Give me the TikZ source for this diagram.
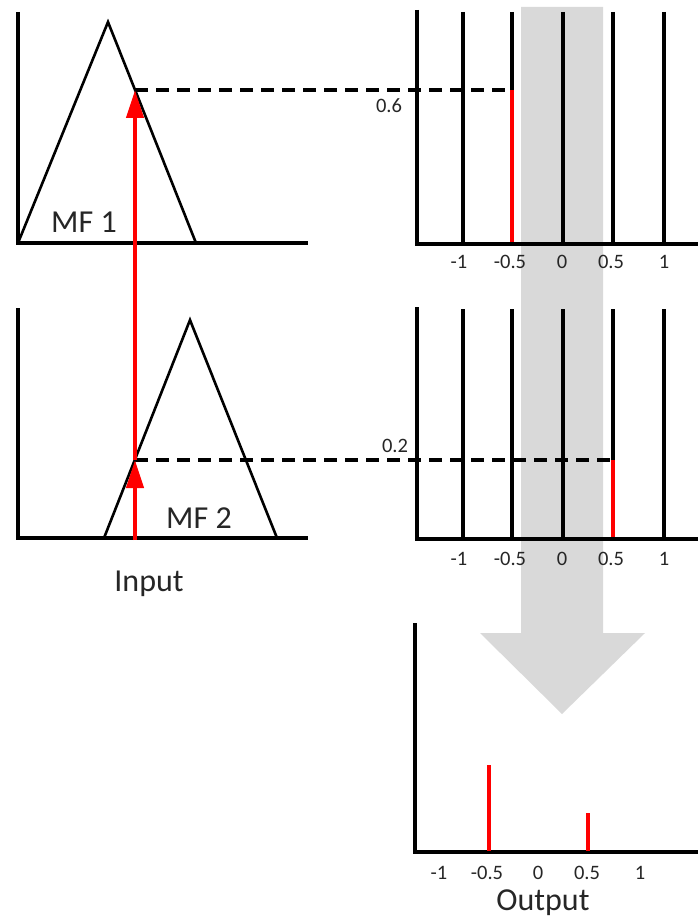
\documentclass[tikz,border=0pt]{standalone}
\usepackage{fontspec}
\setmainfont{Carlito}
\usetikzlibrary{arrows.meta, backgrounds}

\begin{document}
\begin{tikzpicture}[
  x=1pt, y=-1pt,
  axis/.style={line width=4.6pt, line join=miter},
  mf/.style={line width=2.6pt, line join=miter},
  bar/.style={line width=4.2pt},
  hit/.style={bar, red},
  fire/.style={red, line width=4pt, -{Triangle[length=28pt, width=17pt]}},
  cut/.style={dash pattern=on 13pt off 8pt, line width=3.2pt},
  lbl/.style={font=\fontsize{32}{38}\selectfont, text=black!85, inner sep=0pt},
  tick/.style={font=\fontsize{20.5}{24}\selectfont, text=black!85, inner sep=0pt},
]

\useasboundingbox (0,0) rectangle (698,920);

% ---- grey flow arrow (behind everything) ----
\begin{scope}[on background layer]
  \fill[black!15] (521,7) -- (603,7) -- (603,633) -- (645,633) -- (562,714)
    -- (480,633) -- (521,633) -- cycle;
\end{scope}

% ---- input side: membership functions ----
\draw[axis] (18,12) -- (18,243) -- (308,243);
\draw[mf] (18,243) -- (108,22) -- (196,243);
\node[lbl] (mf1) at (84,222) {MF 1};

\draw[axis] (18,308) -- (18,538) -- (308,538);
\draw[mf] (104,538) -- (190,320) -- (277,538);
\node[lbl] (mf2) at (199,518) {MF 2};

\node[lbl] (input) at (149,584) {Input};

% ---- rule 1 consequent (singletons) ----
\draw[axis] (417,10) -- (417,244) -- (698,244);
\foreach \x in {463,512,563,613,664}{
  \draw[bar] (\x,12) -- (\x,244);
}
\foreach \x/\lab [count=\i] in {459/-1, 510/-0.5, 562/0, 611/0.5, 664/1}{
  \node[tick] (ta\i) at (\x,262) {\lab};
}

% ---- rule 2 consequent (singletons) ----
\draw[axis] (417,307) -- (417,539) -- (698,539);
\foreach \x in {463,512,563,613,664}{
  \draw[bar] (\x,309) -- (\x,539);
}
\foreach \x/\lab [count=\i] in {459/-1, 510/-0.5, 562/0, 611/0.5, 664/1}{
  \node[tick] (tb\i) at (\x,559) {\lab};
}

% ---- firing strengths ----
\coordinate (in2)  at (135,540);
\coordinate (cut2) at (135,460);
\coordinate (cut1) at (135,90);
\coordinate (end1) at (512,90);
\coordinate (end2) at (613,460);
\coordinate (foot1) at (512,242);
\coordinate (foot2) at (613,537);

\draw[cut] (cut1) -- (end1);
\draw[cut] (cut2) -- (end2);
\draw[hit] (end1) -- (foot1);
\draw[hit] (end2) -- (foot2);
\draw[fire] (in2) -- (cut2);
\draw[fire] (cut2) -- (cut1);

\node[tick] (v06) at (389,106) {0.6};
\node[tick] (v02) at (395,446) {0.2};

% ---- aggregated output ----
\draw[axis] (415,623) -- (415,852) -- (698,852);
\draw[hit] (489,765) -- (489,851);
\draw[hit] (588,813) -- (588,851);
\foreach \x/\lab [count=\i] in {439/-1, 487/-0.5, 538/0, 587/0.5, 640/1}{
  \node[tick] (tc\i) at (\x,873) {\lab};
}
\node[lbl] (output) at (543,903) {Output};

\end{tikzpicture}
\end{document}
